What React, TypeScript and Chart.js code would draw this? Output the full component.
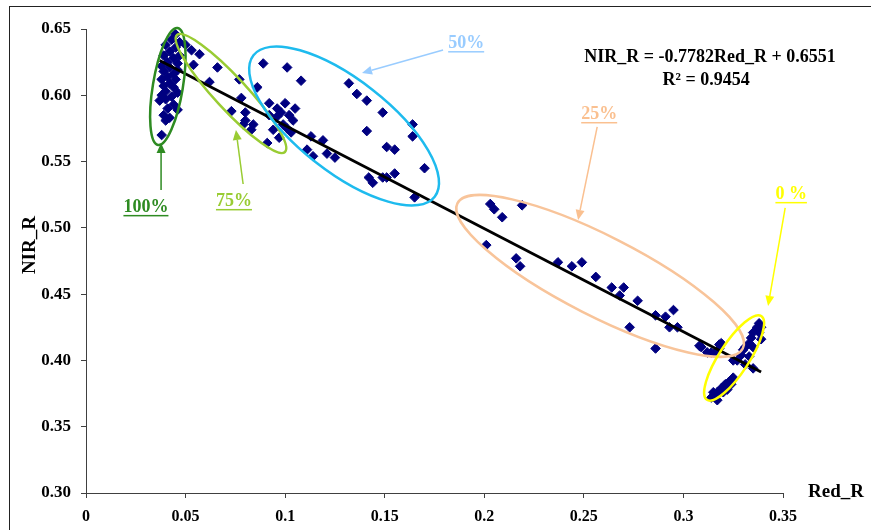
import React, { useEffect, useRef } from 'react';
import { Chart, registerables } from 'chart.js';

Chart.register(...registerables);

// ---- Data (Red_R, NIR_R) by canopy cover group ----
const red100 = [0.045, 0.043, 0.047, 0.040, 0.045, 0.042, 0.039, 0.044, 0.041, 0.046, 0.038, 0.042, 0.046, 0.039, 0.044, 0.041, 0.038, 0.045, 0.042, 0.039, 0.044, 0.040, 0.046, 0.038, 0.043, 0.040, 0.044, 0.041, 0.046, 0.039, 0.042, 0.038, 0.040, 0.047, 0.037];
const nir100 = [0.646, 0.642, 0.640, 0.638, 0.636, 0.633, 0.630, 0.628, 0.625, 0.624, 0.622, 0.621, 0.619, 0.618, 0.616, 0.614, 0.612, 0.612, 0.609, 0.607, 0.606, 0.603, 0.602, 0.600, 0.599, 0.597, 0.593, 0.590, 0.589, 0.585, 0.583, 0.570, 0.581, 0.630, 0.596];

const red75 = [0.050, 0.053, 0.057, 0.054, 0.066, 0.062, 0.077, 0.073, 0.078, 0.080, 0.080, 0.084, 0.079, 0.083, 0.086, 0.091, 0.089];
const nir75 = [0.638, 0.634, 0.631, 0.623, 0.621, 0.610, 0.612, 0.588, 0.598, 0.587, 0.581, 0.578, 0.578, 0.574, 0.606, 0.564, 0.624];

const redMid = [0.092, 0.096, 0.098, 0.102, 0.092, 0.096, 0.104, 0.099, 0.094, 0.103, 0.097, 0.101, 0.108, 0.111, 0.100, 0.105, 0.101];
const nirMid = [0.594, 0.590, 0.587, 0.585, 0.585, 0.584, 0.581, 0.578, 0.574, 0.572, 0.568, 0.621, 0.611, 0.559, 0.594, 0.590, 0.575];

const red50 = [0.132, 0.136, 0.141, 0.149, 0.141, 0.164, 0.164, 0.151, 0.155, 0.170, 0.113, 0.119, 0.114, 0.121, 0.125, 0.142, 0.144, 0.151, 0.155, 0.149, 0.165];
const nir50 = [0.609, 0.601, 0.596, 0.587, 0.573, 0.578, 0.569, 0.561, 0.559, 0.545, 0.569, 0.566, 0.554, 0.556, 0.553, 0.538, 0.534, 0.538, 0.541, 0.538, 0.523];

const red25 = [0.203, 0.205, 0.209, 0.219, 0.201, 0.216, 0.218, 0.237, 0.244, 0.249, 0.256, 0.264, 0.270, 0.268, 0.277, 0.295, 0.286, 0.291, 0.293, 0.297, 0.273, 0.286, 0.308, 0.318, 0.314];
const nir25 = [0.518, 0.514, 0.508, 0.517, 0.487, 0.477, 0.471, 0.474, 0.471, 0.474, 0.463, 0.455, 0.455, 0.449, 0.445, 0.438, 0.434, 0.433, 0.425, 0.425, 0.425, 0.409, 0.411, 0.412, 0.406];

const red0 = [0.338, 0.337, 0.335, 0.334, 0.333, 0.331, 0.330, 0.329, 0.327, 0.335, 0.333, 0.331, 0.335, 0.325, 0.319, 0.318, 0.312, 0.309, 0.316, 0.338, 0.339, 0.339, 0.314, 0.316, 0.317, 0.319, 0.321, 0.323, 0.325, 0.317, 0.320, 0.322, 0.315, 0.324];
const nir0 = [0.428, 0.425, 0.421, 0.417, 0.413, 0.410, 0.408, 0.404, 0.400, 0.410, 0.403, 0.397, 0.394, 0.400, 0.413, 0.409, 0.406, 0.410, 0.406, 0.421, 0.416, 0.425, 0.372, 0.374, 0.376, 0.379, 0.382, 0.384, 0.387, 0.370, 0.376, 0.378, 0.376, 0.382];

// Regression
const slope = -0.7782;
const intercept = 0.6551;
const r2 = 0.9454;

// Ticks
const xTickValues = [0, 0.05, 0.1, 0.15, 0.2, 0.25, 0.3, 0.35];
const xTickLabels = ['0', '0.05', '0.1', '0.15', '0.2', '0.25', '0.3', '0.35'];
const yTickValues = [0.30, 0.35, 0.40, 0.45, 0.50, 0.55, 0.60, 0.65];
const yTickLabels = ['0.30', '0.35', '0.40', '0.45', '0.50', '0.55', '0.60', '0.65'];

const groupNames = ['100%', '75%', '50%', '25%', '0 %'];

const SERIF = "'Liberation Serif', 'Times New Roman', serif";

// Annotation geometry (in data units) and styles
const ellipses = [
  { color: '#2E8B22', x1: 0.0460, y1: 0.6508, x2: 0.0362, y2: 0.5625, half: 15 },
  { color: '#99CC33', x1: 0.0457, y1: 0.6455, x2: 0.0999, y2: 0.5572, half: 16 },
  { color: '#1EBBEE', x1: 0.0841, y1: 0.6302, x2: 0.1751, y2: 0.5235, half: 46 },
  { color: '#F8C49A', x1: 0.1865, y1: 0.5185, x2: 0.3298, y2: 0.4090, half: 40 },
  { color: '#FFFF00', x1: 0.3118, y1: 0.3703, x2: 0.3391, y2: 0.4335, half: 15 },
];
const labelStyles = [
  { color: '#2E8B22', tx: 0.0301, ty: 0.5158, ax: 0.0377, ay: 0.5286, bx: 0.0377, by: 0.5640 },
  { color: '#99CC33', tx: 0.0743, ty: 0.5203, ax: 0.0789, ay: 0.5331, bx: 0.0753, by: 0.5738 },
  { color: '#99CCFF', tx: 0.1909, ty: 0.6394, ax: 0.1793, ay: 0.6342, bx: 0.1386, by: 0.6168 },
  { color: '#FAC090', tx: 0.2577, ty: 0.5859, ax: 0.2567, ay: 0.5761, bx: 0.2471, by: 0.5060 },
  { color: '#FFFF00', tx: 0.3541, ty: 0.5256, ax: 0.3511, ay: 0.5150, bx: 0.3425, by: 0.4411 },
];
const eqPos = { x: 0.3134, y: 0.6289, x2: 0.3114, y2: 0.6115 };

function zip(xs: number[], ys: number[]) {
  return xs.map((x, i) => ({ x, y: ys[i] }));
}

const annotationPlugin = {
  id: 'annotations',
  afterDatasetsDraw(chart: any) {
    const { ctx } = chart;
    const xs = chart.scales.x;
    const ys = chart.scales.y;
    const px = (v: number) => xs.getPixelForValue(v);
    const py = (v: number) => ys.getPixelForValue(v);
    ctx.save();
    ellipses.forEach((e) => {
      const ax = px(e.x1), ay = py(e.y1), bx = px(e.x2), by = py(e.y2);
      const cx = (ax + bx) / 2, cy = (ay + by) / 2;
      const a = Math.hypot(bx - ax, by - ay) / 2;
      const rot = Math.atan2(by - ay, bx - ax);
      ctx.beginPath();
      ctx.ellipse(cx, cy, a, e.half, rot, 0, Math.PI * 2);
      ctx.strokeStyle = e.color;
      ctx.lineWidth = 2.5;
      ctx.stroke();
    });
    labelStyles.forEach((l, i) => {
      const tx = px(l.tx), ty = py(l.ty);
      ctx.font = `bold 18px ${SERIF}`;
      ctx.fillStyle = l.color;
      ctx.textAlign = 'center';
      ctx.textBaseline = 'middle';
      const name = groupNames[i];
      ctx.fillText(name, tx, ty);
      const w = ctx.measureText(name).width;
      ctx.fillRect(tx - w / 2, ty + 8, w, 1.5);
      const sx = px(l.ax), sy = py(l.ay), ex = px(l.bx), ey = py(l.by);
      const ang = Math.atan2(ey - sy, ex - sx);
      const hl = 10, hw = 4.5;
      const bxp = ex - hl * Math.cos(ang), byp = ey - hl * Math.sin(ang);
      ctx.strokeStyle = l.color;
      ctx.lineWidth = 1.5;
      ctx.beginPath();
      ctx.moveTo(sx, sy);
      ctx.lineTo(bxp, byp);
      ctx.stroke();
      ctx.beginPath();
      ctx.moveTo(ex, ey);
      ctx.lineTo(bxp + hw * Math.sin(ang), byp - hw * Math.cos(ang));
      ctx.lineTo(bxp - hw * Math.sin(ang), byp + hw * Math.cos(ang));
      ctx.closePath();
      ctx.fill();
    });
    ctx.fillStyle = '#000';
    ctx.font = `bold 18px ${SERIF}`;
    ctx.textAlign = 'center';
    ctx.textBaseline = 'middle';
    ctx.fillText(`NIR_R = ${slope.toFixed(4)}Red_R + ${intercept.toFixed(4)}`, px(eqPos.x), py(eqPos.y));
    ctx.fillText(`R² = ${r2.toFixed(4)}`, px(eqPos.x2), py(eqPos.y2));
    const ca = chart.chartArea;
    ctx.font = `bold 19px ${SERIF}`;
    ctx.textAlign = 'left';
    ctx.fillText('Red_R', ca.right + 25, ca.bottom - 1);
    ctx.save();
    ctx.translate(30, py(0.487));
    ctx.rotate(-Math.PI / 2);
    ctx.textAlign = 'center';
    ctx.fillText('NIR_R', 0, 0);
    ctx.restore();
    ctx.strokeStyle = '#222';
    ctx.lineWidth = 1;
    ctx.strokeRect(9.5, 6.5, 2000, 2000);
    ctx.restore();
  },
};

export default function App() {
  const ref = useRef<HTMLCanvasElement | null>(null);
  useEffect(() => {
    document.body.style.margin = '0';
    const canvas = ref.current;
    if (!canvas) return;
    const points = [
      ...zip(red100, nir100),
      ...zip(red75, nir75),
      ...zip(redMid, nirMid),
      ...zip(red50, nir50),
      ...zip(red25, nir25),
      ...zip(red0, nir0),
    ];
    const allX = points.map((p) => p.x);
    const xMin = Math.min(...allX);
    const xMax = Math.max(...allX);
    const trend = [
      { x: xMin, y: slope * xMin + intercept },
      { x: xMax, y: slope * xMax + intercept },
    ];
    const chart = new Chart(canvas, {
      type: 'scatter',
      data: {
        datasets: [
          {
            type: 'line',
            label: 'Linear',
            data: trend,
            borderColor: '#000',
            borderWidth: 2.8,
            pointRadius: 0,
            fill: false,
          } as any,
          {
            label: 'NIR_R',
            data: points,
            pointStyle: 'rectRot',
            pointRadius: 4.8,
            backgroundColor: '#000080',
            borderColor: '#000080',
            borderWidth: 1,
          },
        ],
      },
      options: {
        responsive: false,
        animation: false,
        layout: { padding: { top: 29, right: 88, left: 0, bottom: 0 } },
        plugins: { legend: { display: false }, tooltip: { enabled: false } },
        scales: {
          x: {
            type: 'linear',
            min: 0,
            max: 0.35,
            afterBuildTicks: (s: any) => { s.ticks = xTickValues.map((v) => ({ value: v })); },
            afterFit: (s: any) => { s.height = 37; },
            ticks: {
              autoSkip: false,
              maxRotation: 0,
              padding: 9,
              color: '#000',
              font: { family: SERIF, size: 16, weight: 'bold' },
              callback: (_v: any, i: number) => xTickLabels[i],
            },
            grid: { drawOnChartArea: false, drawTicks: true, tickLength: 5, color: '#404040' },
            border: { display: true, color: '#404040', width: 1 },
          },
          y: {
            type: 'linear',
            min: 0.30,
            max: 0.65,
            afterBuildTicks: (s: any) => { s.ticks = yTickValues.map((v) => ({ value: v })); },
            afterFit: (s: any) => { s.width = 86; },
            ticks: {
              autoSkip: false,
              padding: 10,
              color: '#000',
              font: { family: SERIF, size: 17, weight: 'bold' },
              callback: (_v: any, i: number) => yTickLabels[i],
            },
            grid: { drawOnChartArea: false, drawTicks: true, tickLength: 5, color: '#404040' },
            border: { display: true, color: '#404040', width: 1 },
          },
        },
      },
      plugins: [annotationPlugin],
    });
    return () => chart.destroy();
  }, []);
  return (
    <div style={{ width: 871, height: 530, background: '#fff' }}>
      <canvas ref={ref} width={871} height={530} style={{ display: 'block' }} />
    </div>
  );
}
